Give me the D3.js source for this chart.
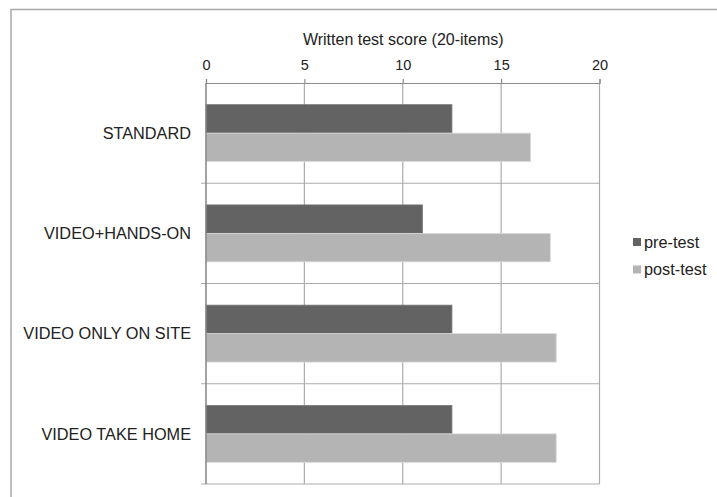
<!DOCTYPE html>
<html>
<head>
<meta charset="utf-8">
<script src="https://cdn.jsdelivr.net/npm/d3@7"></script>
<style>
  html, body { margin: 0; padding: 0; background: #fff; }
  svg { display: block; font-family: "Liberation Sans", Arial, sans-serif; }
</style>
</head>
<body>
<svg id="chart" width="717" height="497"></svg>
<script>
// Written test scores by training method
const categories = ["STANDARD", "VIDEO+HANDS-ON", "VIDEO ONLY ON SITE", "VIDEO TAKE HOME"];
const seriesNames = ["pre-test", "post-test"];
const preTest = [12.5, 11.0, 12.5, 12.5];
const postTest = [16.5, 17.5, 17.8, 17.8];
const xTicks = [0, 5, 10, 15, 20];
const axisTitle = "Written test score (20-items)";

const colors = { "pre-test": "#636363", "post-test": "#b4b4b4" };

const svg = d3.select("#chart");

// outer chart frame (runs off the right and bottom edges)
svg.append("rect")
  .attr("x", 11).attr("y", 9.5)
  .attr("width", 740).attr("height", 520)
  .attr("fill", "none").attr("stroke", "#a9a9a9").attr("stroke-width", 1.5);

const plot = { left: 206, right: 599.5, top: 83, bottom: 484 };

const x = d3.scaleLinear().domain([0, 20]).range([plot.left, plot.right]);
const y = d3.scaleBand().domain(categories).range([plot.top, plot.bottom]).paddingInner(0).paddingOuter(0);
const inner = d3.scaleBand().domain(seriesNames).range([0, y.bandwidth()]).paddingInner(0).paddingOuter(0.76);

// vertical gridlines
svg.append("g").selectAll("line")
  .data(xTicks.filter(d => d > 0))
  .join("line")
  .attr("x1", d => x(d)).attr("x2", d => x(d))
  .attr("y1", plot.top).attr("y2", plot.bottom)
  .attr("stroke", "#ababab").attr("stroke-width", 1.2);

// category separators with tick stubs to the left
const bounds = categories.map(c => y(c)).concat([plot.bottom]);
svg.append("g").selectAll("line")
  .data(bounds.slice(1))
  .join("line")
  .attr("x1", plot.left - 5).attr("x2", plot.right)
  .attr("y1", d => d).attr("y2", d => d)
  .attr("stroke", "#ababab").attr("stroke-width", 1.2);

// top axis with ticks and labels
const xAxis = d3.axisTop(x).tickValues(xTicks).tickSize(4).tickPadding(9.5).tickFormat(d3.format("d"));
const gx = svg.append("g").attr("transform", `translate(0,${plot.top})`).call(xAxis);
gx.select(".domain").attr("stroke", "#8c8c8c").attr("stroke-width", 1.2);
gx.selectAll(".tick line").attr("stroke", "#8c8c8c").attr("stroke-width", 1.2);
gx.selectAll(".tick text")
  .attr("fill", "#222").attr("font-size", "14.5px")
  .attr("font-family", "'Liberation Sans', Arial, sans-serif");

svg.append("text")
  .attr("x", (plot.left + plot.right) / 2 + 0.5).attr("y", 45)
  .attr("text-anchor", "middle")
  .attr("fill", "#222").attr("font-size", "16px")
  .text(axisTitle);

// bars
const rows = categories.map((c, i) => ({ cat: c, values: [
  { name: "pre-test", value: preTest[i] },
  { name: "post-test", value: postTest[i] }
]}));

const groups = svg.append("g").selectAll("g")
  .data(rows).join("g")
  .attr("transform", d => `translate(0,${y(d.cat)})`);

groups.selectAll("rect")
  .data(d => d.values).join("rect")
  .attr("x", x(0))
  .attr("y", d => inner(d.name))
  .attr("width", d => x(d.value) - x(0))
  .attr("height", inner.bandwidth())
  .attr("fill", d => colors[d.name])
  .attr("stroke", d => d.name === "post-test" ? "#dcdcdc" : "#7a7a7a")
  .attr("stroke-width", 0.8);

// left axis line
svg.append("line")
  .attr("x1", plot.left).attr("x2", plot.left)
  .attr("y1", plot.top).attr("y2", plot.bottom)
  .attr("stroke", "#858585").attr("stroke-width", 1.5);

// category labels
svg.append("g").selectAll("text")
  .data(categories).join("text")
  .attr("x", 191)
  .attr("y", d => y(d) + y.bandwidth() / 2)
  .attr("dy", "0.35em")
  .attr("text-anchor", "end")
  .attr("fill", "#222").attr("font-size", "16.3px")
  .text(d => d);

// legend
const legend = svg.append("g").selectAll("g")
  .data(seriesNames).join("g")
  .attr("transform", (d, i) => `translate(633,${242 + i * 27.5})`);
legend.append("rect")
  .attr("x", 0).attr("y", -4).attr("width", 8).attr("height", 8)
  .attr("fill", d => colors[d]);
legend.append("text")
  .attr("x", 11).attr("y", 0).attr("dy", "0.35em")
  .attr("fill", "#222").attr("font-size", "16.3px")
  .text(d => d);
</script>
</body>
</html>
